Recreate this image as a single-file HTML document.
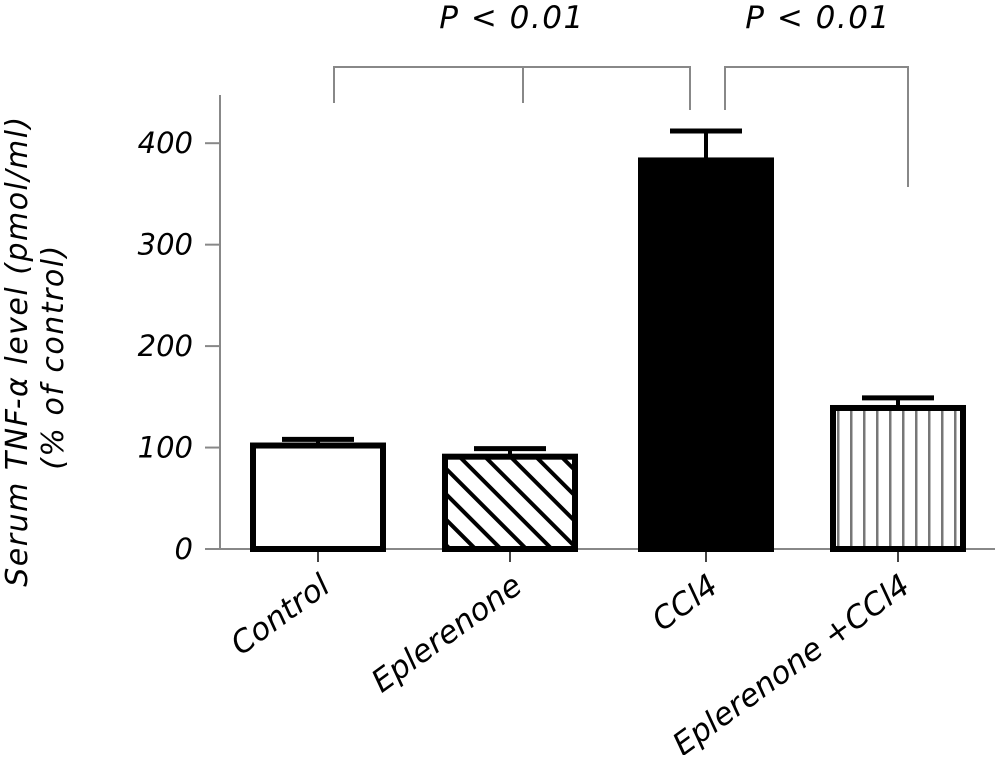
<!DOCTYPE html>
<html><head><meta charset="utf-8"><style>
body{margin:0;background:#fff}
svg text{font-family:"DejaVu Sans","Liberation Sans",sans-serif;font-style:italic;fill:#000}
</style></head><body>
<svg width="1000" height="755" viewBox="0 0 1000 755">
<defs>
<pattern id="diag" patternUnits="userSpaceOnUse" width="18" height="18" patternTransform="rotate(-45)">
<rect width="18" height="18" fill="#fff"/><rect x="0" y="0" width="4" height="18" fill="#000"/></pattern>
<pattern id="vert" patternUnits="userSpaceOnUse" width="13" height="10">
<rect width="13" height="10" fill="#fff"/><rect x="5" y="0" width="2.5" height="10" fill="#777"/></pattern>
</defs>
<g id="plot"></g>
</svg>
<script>
const categories=["Control","Eplerenone","CCl4","Eplerenone +CCl4"];
const means=[102,91,383,139];
const errors=[6,8,29,10];
const yTicks=[0,100,200,300,400];
const fills=["#fff","url(#diag)","#000","url(#vert)"];
const NS="http://www.w3.org/2000/svg";
const g=document.getElementById('plot');
const y=v=>549-v*1.0145;
const centers=[318,510,706,898];
const bw=130;
function mk(t,a,p){const e=document.createElementNS(NS,t);for(const k in a)e.setAttribute(k,a[k]);(p||g).appendChild(e);return e;}
let e=mk('line',{x1:220,y1:95,x2:220,y2:549,stroke:'#888','stroke-width':2});


e=mk('line',{x1:205,y1:549,x2:995,y2:549,stroke:'#888','stroke-width':2});


yTicks.forEach(t=>{
 e=mk('line',{x1:205,y1:y(t),x2:220,y2:y(t),stroke:'#888','stroke-width':2});
 
 
 e=mk('text',{x:193,y:y(t)+10,'text-anchor':'end','font-size':29});
 e.textContent=t;
 
 
});
categories.forEach((c,i)=>{
 const cx=centers[i];
 e=mk('line',{x1:cx,y1:549,x2:cx,y2:562,stroke:'#444','stroke-width':2});
 
 
 e=mk('rect',{x:cx-bw/2,y:y(means[i]),width:bw,height:549-y(means[i]),fill:fills[i],stroke:'#000','stroke-width':6});
 
 
 e=mk('line',{x1:cx,y1:y(means[i]),x2:cx,y2:y(means[i]+errors[i]),stroke:'#000','stroke-width':4});
 
 
 e=mk('line',{x1:cx-36,y1:y(means[i]+errors[i]),x2:cx+36,y2:y(means[i]+errors[i]),stroke:'#000','stroke-width':5});
 
 
 e=mk('text',{x:cx+14,y:590,'text-anchor':'end','font-size':31,transform:`rotate(-36 ${cx+14} 590)`});
 e.textContent=c;
 
 
});
const br=mk('g',{stroke:'#888','stroke-width':2,fill:'none'});


mk('path',{d:'M334 103V67H690V110M523 67V103'},br);
mk('path',{d:'M725 110V67H908V187'},br);
[[512,"P < 0.01"],[818,"P < 0.01"]].forEach(([x,t])=>{
 e=mk('text',{x:x,y:28,'text-anchor':'middle','font-size':31,'letter-spacing':1.5});
 e.textContent=t;
 
 
});
e=mk('text',{x:0,y:0,'text-anchor':'middle','font-size':30,'letter-spacing':1.5,transform:'translate(27 351) rotate(-90)'});
e.textContent="Serum TNF-α level (pmol/ml)";


e=mk('text',{x:0,y:0,'text-anchor':'middle','font-size':30,'letter-spacing':1.5,transform:'translate(63 357) rotate(-90)'});
e.textContent="(% of control)";


</script>
</body></html>
